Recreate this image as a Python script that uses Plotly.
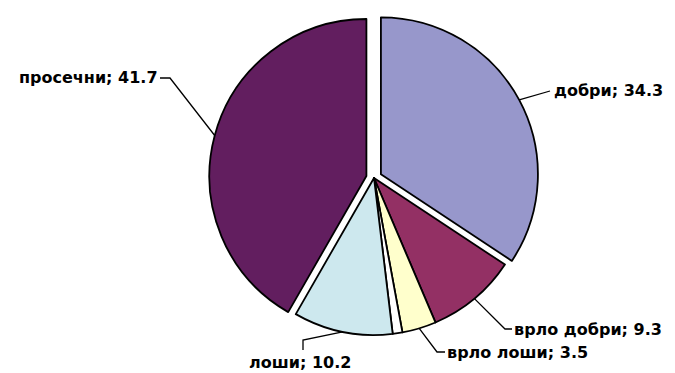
import math
import plotly.graph_objects as go

# data (clockwise from 12 o'clock)
labels = ["добри", "врло добри", "врло лоши", "", "лоши", "просечни"]
values = [34.3, 9.3, 3.5, 1.0, 10.2, 41.7]
colors = ["#9797CB", "#933064", "#FFFFCC", "#FFFFFF", "#CDE8EE", "#621E5F"]
pulls = [0.05, 0, 0, 0, 0, 0.05]

W, H = 675, 373
CX, CY, R = 374, 178, 157
maxpull = max(pulls)
box = 2 * R * (1 + maxpull)

fig = go.Figure(go.Pie(
    labels=labels, values=values, sort=False, direction="clockwise", rotation=0,
    pull=pulls, textinfo="none", hoverinfo="label+value",
    marker=dict(colors=colors, line=dict(color="black", width=1.8)),
    domain=dict(x=[(CX - box / 2) / W, (CX + box / 2) / W],
                y=[1 - (CY + box / 2) / H, 1 - (CY - box / 2) / H]),
    showlegend=False,
))

def px(x):
    return x / W

def py(y):
    return 1 - y / H

# label layout: leader points after the slice edge
label_layout = {
    "добри": [(550, 91)],
    "врло добри": [(505, 329), (512, 329)],
    "врло лоши": [(437, 352), (445, 352)],
    "лоши": [(303, 340), (303, 350)],
    "просечни": [(170, 78), (160, 78)],
}
text_pos = {
    "добри": (553, 91, "left"),
    "врло добри": (513, 329, "left"),
    "врло лоши": (446, 352, "left"),
    "лоши": (300, 362, "center"),
    "просечни": (159, 77, "right"),
}

total = sum(values)
cum = 0
for lab, v, p in zip(labels, values, pulls):
    mid = (cum + v / 2) / total * 2 * math.pi
    cum += v
    if not lab:
        continue
    ox = CX + p * R * math.sin(mid)
    oy = CY - p * R * math.cos(mid)
    ax = ox + R * math.sin(mid)
    ay = oy - R * math.cos(mid)
    pts = [(ax, ay)] + label_layout[lab]
    path = "M " + " L ".join(f"{px(x)},{py(y)}" for x, y in pts)
    fig.add_shape(type="path", path=path, xref="paper", yref="paper",
                  line=dict(color="black", width=1.3))
    tx, ty, anc = text_pos[lab]
    fig.add_annotation(x=px(tx), y=py(ty), xref="paper", yref="paper",
                       text=f"<b>{lab}; {v}</b>", showarrow=False,
                       xanchor=anc, yanchor="middle", borderpad=0,
                       font=dict(family="DejaVu Sans", size=16, color="black"))

fig.update_layout(width=W, height=H, margin=dict(l=0, r=0, t=0, b=0),
                  paper_bgcolor="white", plot_bgcolor="white")
fig.write_html("out.html")
